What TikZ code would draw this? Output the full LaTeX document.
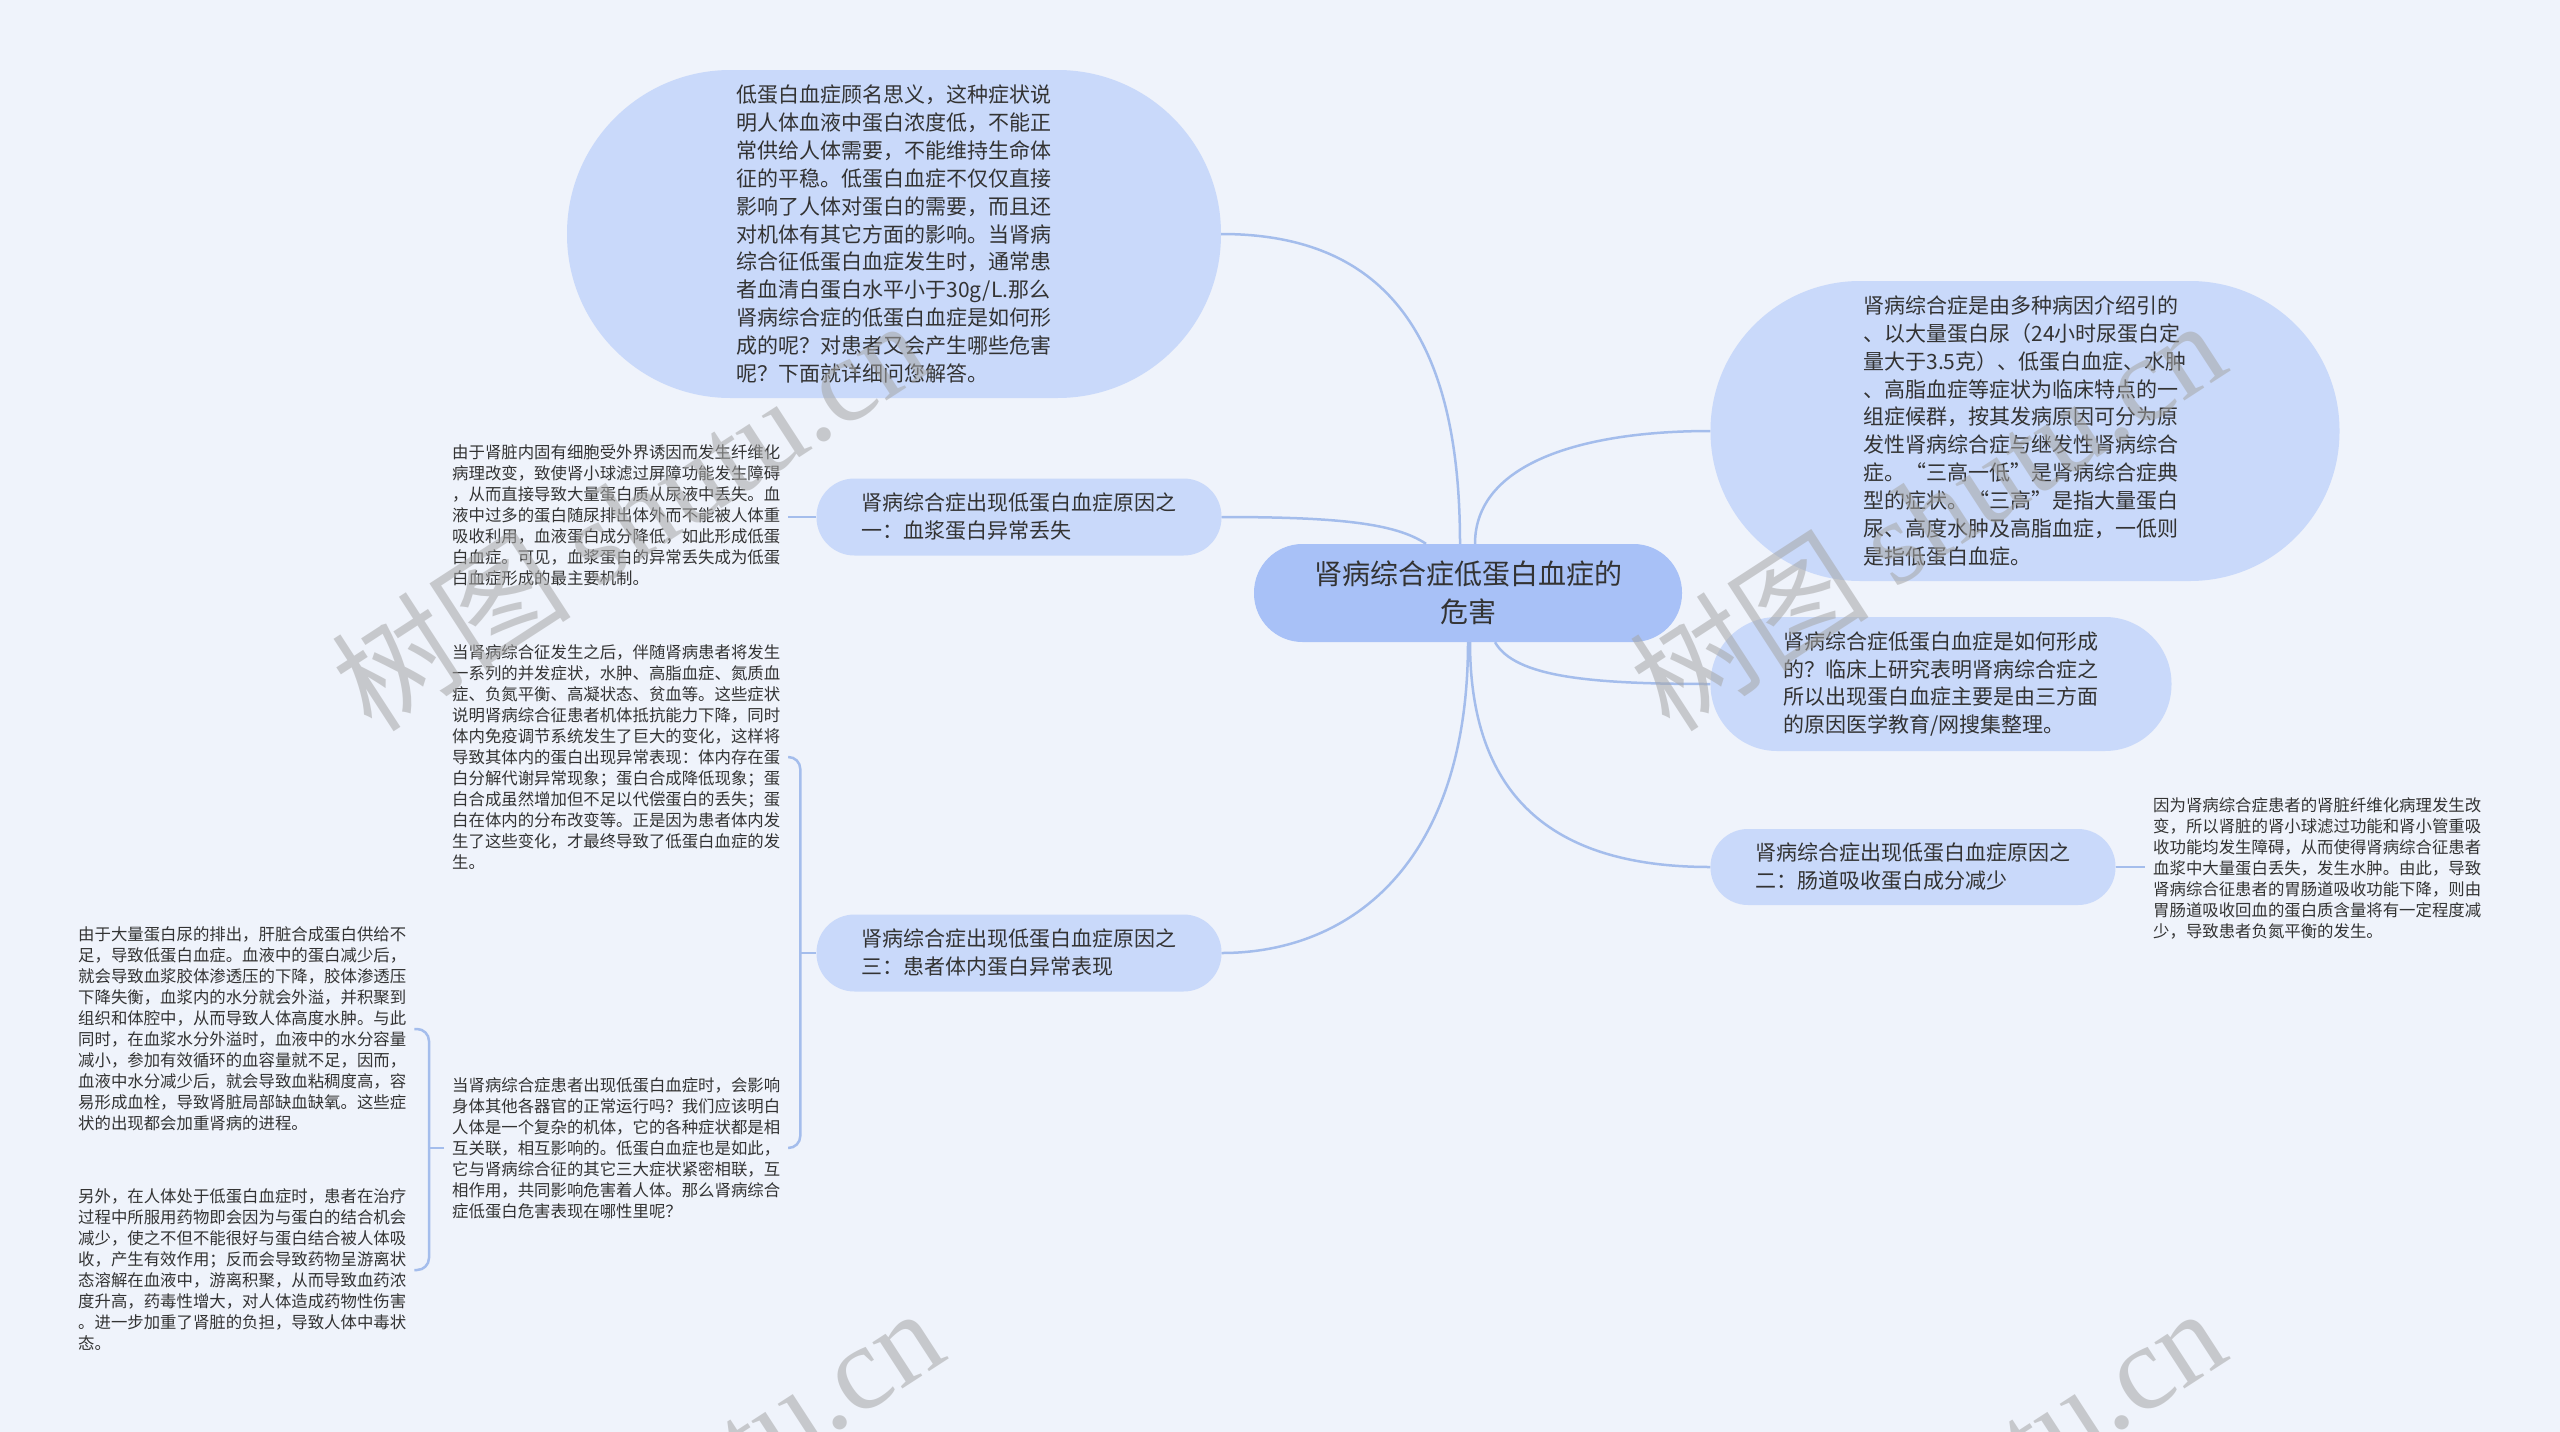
\documentclass[tikz,border=0pt]{standalone}
\usepackage{fontspec}
\setmainfont{Noto Sans CJK SC}
\newfontfamily\wmlatin{Liberation Serif}
\definecolor{bg}{HTML}{EFF3FB}
\definecolor{cfill}{HTML}{A8C1F7}
\definecolor{bfill}{HTML}{C9D9FA}
\definecolor{lcol}{HTML}{A4BDEC}
\definecolor{tcol}{HTML}{333333}
\begin{document}
\begin{tikzpicture}[x=1pt,y=-1pt,
  bubble/.style={fill=bfill, text=tcol, align=left, inner sep=0pt,
    font=\fontsize{21}{27.9}\selectfont},
  centre/.style={fill=cfill, text=tcol, align=center, inner sep=0pt,
    font=\fontsize{28}{37.5}\selectfont},
  smalltext/.style={text=tcol, align=left, inner xsep=8pt, inner ysep=0pt, anchor=west,
    font=\fontsize{16.4}{21}\selectfont},
  conn/.style={draw=lcol, line width=2.5pt},
  wm/.style={text=gray!70, opacity=0.55, font=\fontsize{120}{120}\selectfont, inner sep=0pt}]
\fill[bg] (0,0) rectangle (2560,1432);
\useasboundingbox (0,0) rectangle (2560,1432);

% main nodes
\node[centre, minimum width=428, minimum height=98, rounded corners=48.5] (c) at (1468,593)
  {肾病综合症低蛋白血症的\\危害};
\node[bubble, minimum width=654, minimum height=328, rounded corners=163.5] (top) at (894,234)
  {低蛋白血症顾名思义，这种症状说\\明人体血液中蛋白浓度低，不能正\\常供给人体需要，不能维持生命体\\征的平稳。低蛋白血症不仅仅直接\\影响了人体对蛋白的需要，而且还\\对机体有其它方面的影响。当肾病\\综合征低蛋白血症发生时，通常患\\者血清白蛋白水平小于30g/L.那么\\肾病综合症的低蛋白血症是如何形\\成的呢？对患者又会产生哪些危害\\呢？下面就详细问您解答。};
\node[bubble, minimum width=405, minimum height=77, rounded corners=38] (r1) at (1019,517)
  {肾病综合症出现低蛋白血症原因之\\一：血浆蛋白异常丢失};
\node[bubble, minimum width=405, minimum height=77, rounded corners=38] (r3) at (1019,953)
  {肾病综合症出现低蛋白血症原因之\\三：患者体内蛋白异常表现};
\node[bubble, minimum width=629, minimum height=300, rounded corners=149.5] (rt) at (2025,431)
  {肾病综合症是由多种病因介绍引的\\、以大量蛋白尿（24小时尿蛋白定\\量大于3.5克）、低蛋白血症、水肿\\、高脂血症等症状为临床特点的一\\组症候群，按其发病原因可分为原\\发性肾病综合症与继发性肾病综合\\症。“三高一低”是肾病综合症典\\型的症状。“三高”是指大量蛋白\\尿、高度水肿及高脂血症，一低则\\是指低蛋白血症。};
\node[bubble, minimum width=461, minimum height=134, rounded corners=66.5] (rm) at (1941,684)
  {肾病综合症低蛋白血症是如何形成\\的？临床上研究表明肾病综合症之\\所以出现蛋白血症主要是由三方面\\的原因医学教育/网搜集整理。};
\node[bubble, minimum width=405, minimum height=76, rounded corners=37.5] (r2) at (1913,867)
  {肾病综合症出现低蛋白血症原因之\\二：肠道吸收蛋白成分减少};

% small texts
\node[smalltext] (t1) at (444,515)
  {由于肾脏内固有细胞受外界诱因而发生纤维化\\病理改变，致使肾小球滤过屏障功能发生障碍\\，从而直接导致大量蛋白质从尿液中丢失。血\\液中过多的蛋白随尿排出体外而不能被人体重\\吸收利用，血液蛋白成分降低，如此形成低蛋\\白血症。可见，血浆蛋白的异常丢失成为低蛋\\白血症形成的最主要机制。};
\node[smalltext] (t2) at (444,757)
  {当肾病综合征发生之后，伴随肾病患者将发生\\一系列的并发症状，水肿、高脂血症、氮质血\\症、负氮平衡、高凝状态、贫血等。这些症状\\说明肾病综合征患者机体抵抗能力下降，同时\\体内免疫调节系统发生了巨大的变化，这样将\\导致其体内的蛋白出现异常表现：体内存在蛋\\白分解代谢异常现象；蛋白合成降低现象；蛋\\白合成虽然增加但不足以代偿蛋白的丢失；蛋\\白在体内的分布改变等。正是因为患者体内发\\生了这些变化，才最终导致了低蛋白血症的发\\生。};
\node[smalltext] (t3) at (444,1148)
  {当肾病综合症患者出现低蛋白血症时，会影响\\身体其他各器官的正常运行吗？我们应该明白\\人体是一个复杂的机体，它的各种症状都是相\\互关联，相互影响的。低蛋白血症也是如此，\\它与肾病综合征的其它三大症状紧密相联，互\\相作用，共同影响危害着人体。那么肾病综合\\症低蛋白危害表现在哪性里呢？};
\node[smalltext] (t4) at (70,1029)
  {由于大量蛋白尿的排出，肝脏合成蛋白供给不\\足，导致低蛋白血症。血液中的蛋白减少后，\\就会导致血浆胶体渗透压的下降，胶体渗透压\\下降失衡，血浆内的水分就会外溢，并积聚到\\组织和体腔中，从而导致人体高度水肿。与此\\同时，在血浆水分外溢时，血液中的水分容量\\减小，参加有效循环的血容量就不足，因而，\\血液中水分减少后，就会导致血粘稠度高，容\\易形成血栓，导致肾脏局部缺血缺氧。这些症\\状的出现都会加重肾病的进程。};
\node[smalltext] (t5) at (70,1270)
  {另外，在人体处于低蛋白血症时，患者在治疗\\过程中所服用药物即会因为与蛋白的结合机会\\减少，使之不但不能很好与蛋白结合被人体吸\\收，产生有效作用；反而会导致药物呈游离状\\态溶解在血液中，游离积聚，从而导致血药浓\\度升高，药毒性增大，对人体造成药物性伤害\\。进一步加重了肾脏的负担，导致人体中毒状\\态。};
\node[smalltext] (t6) at (2145,868)
  {因为肾病综合症患者的肾脏纤维化病理发生改\\变，所以肾脏的肾小球滤过功能和肾小管重吸\\收功能均发生障碍，从而使得肾病综合征患者\\血浆中大量蛋白丢失，发生水肿。由此，导致\\肾病综合征患者的胃肠道吸收功能下降，则由\\胃肠道吸收回血的蛋白质含量将有一定程度减\\少，导致患者负氮平衡的发生。};

% connectors from centre
\draw[conn] (top.east) .. controls +(170,0) and +(0,-200) .. ([xshift=-8]c.north);
\draw[conn] (r1.east) .. controls +(120,0) and +(-30,-20) .. ([xshift=-42]c.north);
\draw[conn] ([xshift=7]c.north) .. controls +(0,-80) and +(-130,0) .. (rt.west);
\draw[conn] (c.south) .. controls +(0,220) and +(130,0) .. (r3.east);
\draw[conn] ([xshift=27]c.south) .. controls +(20,35) and +(-120,0) .. (rm.west);
\draw[conn] ([xshift=2]c.south) .. controls +(0,170) and +(-140,0) .. (r2.west);

% child connectors
\draw[conn] (r1.west) -- (r1.west -| t1.east);
\draw[conn] (r2.east) -- (r2.east -| t6.west);
\coordinate (b3) at ([xshift=-16]r3.west);
\draw[conn] (r3.west) -- (b3);
\draw[conn, rounded corners=12] (t2.east) -| (b3) |- (t3.east);
\coordinate (b4) at ([xshift=-15]t3.west);
\draw[conn] (t3.west) -- (b4);
\draw[conn, rounded corners=12] (t4.east) -| (b4) |- (t5.east);

% watermarks
\node[wm, rotate=33] (w1) at (629,514) {树图 {\wmlatin shutu.cn}};
\node[wm, rotate=33] (w2) at (1927,514) {树图 {\wmlatin shutu.cn}};
\node[wm, rotate=33] (w3) at (645,1502) {树图 {\wmlatin shutu.cn}};
\node[wm, rotate=33] (w4) at (1927,1502) {树图 {\wmlatin shutu.cn}};
\end{tikzpicture}
\end{document}
